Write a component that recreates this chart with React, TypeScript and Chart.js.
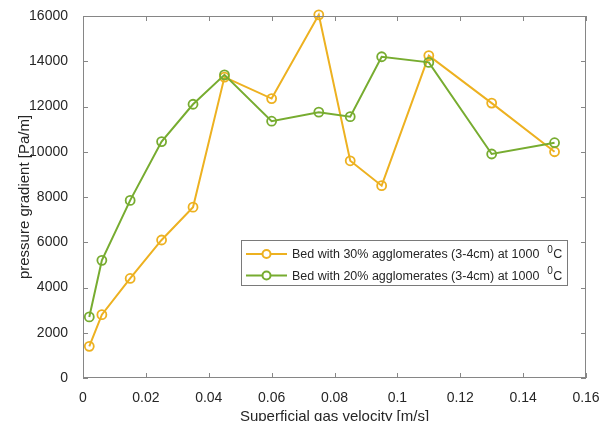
import React, { useEffect, useRef } from "react";
import { Chart, registerables } from "chart.js";

Chart.register(...registerables);

const velocity = [0.002, 0.006, 0.015, 0.025, 0.035, 0.045, 0.06, 0.075, 0.085, 0.095, 0.11, 0.13, 0.15];
const bed30 = [1400, 2800, 4400, 6100, 7550, 13300, 12350, 16050, 9600, 8500, 14250, 12150, 10000];
const bed20 = [2700, 5200, 7850, 10450, 12100, 13400, 11350, 11750, 11550, 14200, 13950, 9900, 10400];
const seriesLabels = [
  "Bed with 30% agglomerates (3-4cm) at 1000",
  "Bed with 20% agglomerates (3-4cm) at 1000",
];
const xTitle = "Superficial gas velocity [m/s]";
const yTitle = "pressure gradient [Pa/m]";

const ORANGE = "#EDB120";
const GREEN = "#77AC30";
const FONT = "'Liberation Sans', Arial, sans-serif";
const AXIS = "#868686";
const TEXT = "#262626";

const frame = {
  id: "frame",
  afterDatasetsDraw(chart: any) {
    const { ctx, chartArea: a, scales } = chart;
    ctx.save();
    ctx.strokeStyle = AXIS;
    ctx.lineWidth = 1;
    ctx.strokeRect(a.left + 0.5, a.top + 0.5, a.right - a.left - 1, a.bottom - a.top - 1);
    const L = 5;
    ctx.beginPath();
    scales.x.ticks.forEach((t: any) => {
      const px = Math.round(scales.x.getPixelForValue(t.value)) + 0.5;
      ctx.moveTo(px, a.bottom);
      ctx.lineTo(px, a.bottom - L);
      ctx.moveTo(px, a.top);
      ctx.lineTo(px, a.top + L);
    });
    scales.y.ticks.forEach((t: any) => {
      const py = Math.round(scales.y.getPixelForValue(t.value)) + 0.5;
      ctx.moveTo(a.left, py);
      ctx.lineTo(a.left + L, py);
      ctx.moveTo(a.right, py);
      ctx.lineTo(a.right - L, py);
    });
    ctx.stroke();

    // legend
    const bx = a.left + 158;
    const by = a.top + 224;
    const bw = 326;
    const bh = 45;
    ctx.fillStyle = "#ffffff";
    ctx.fillRect(bx, by, bw, bh);
    ctx.strokeStyle = "#7a7a7a";
    ctx.strokeRect(bx + 0.5, by + 0.5, bw, bh);
    const colors = [ORANGE, GREEN];
    seriesLabels.forEach((lab, i) => {
      const cy = by + 14 + i * 21.5;
      ctx.strokeStyle = colors[i];
      ctx.lineWidth = 2;
      ctx.beginPath();
      ctx.moveTo(bx + 5, cy);
      ctx.lineTo(bx + 46, cy);
      ctx.stroke();
      ctx.beginPath();
      ctx.arc(bx + 25.5, cy, 4, 0, Math.PI * 2);
      ctx.fillStyle = "#ffffff";
      ctx.fill();
      ctx.stroke();
      ctx.fillStyle = TEXT;
      ctx.textBaseline = "middle";
      ctx.font = `12.5px ${FONT}`;
      const tx = bx + 51;
      ctx.fillText(lab, tx, cy + 1);
      const w = ctx.measureText(lab + "  ").width;
      ctx.font = `10px ${FONT}`;
      ctx.fillText("0", tx + w + 1, cy - 4);
      const w0 = ctx.measureText("0").width;
      ctx.font = `12.5px ${FONT}`;
      ctx.fillText("C", tx + w + w0 + 1.5, cy + 1);
    });
    ctx.restore();
  },
};

export default function App() {
  const ref = useRef<HTMLCanvasElement>(null);
  useEffect(() => {
    document.body.style.margin = "0";
    const chart = new Chart(ref.current!, {
      type: "scatter",
      data: {
        datasets: [
          {
            label: seriesLabels[0],
            data: velocity.map((x, i) => ({ x, y: bed30[i] })),
            showLine: true,
            borderColor: ORANGE,
            backgroundColor: "#ffffff",
            pointBackgroundColor: "rgba(0,0,0,0)",
            borderWidth: 2,
            pointRadius: 4.5,
            pointBorderWidth: 1.8,
            order: 1,
            clip: false as any,
          },
          {
            label: seriesLabels[1],
            data: velocity.map((x, i) => ({ x, y: bed20[i] })),
            showLine: true,
            borderColor: GREEN,
            backgroundColor: "#ffffff",
            pointBackgroundColor: "rgba(0,0,0,0)",
            borderWidth: 2,
            pointRadius: 4.5,
            pointBorderWidth: 1.8,
            order: 0,
            clip: false as any,
          },
        ],
      },
      options: {
        animation: false,
        responsive: false,
        maintainAspectRatio: false,
        layout: { padding: { top: 16, right: 22, left: 0, bottom: 0 } },
        plugins: { legend: { display: false }, tooltip: { enabled: false } },
        scales: {
          x: {
            type: "linear",
            min: 0,
            max: 0.16,
            grid: { display: false },
            border: { display: false },
            ticks: {
              stepSize: 0.02,
              color: TEXT,
              font: { family: FONT, size: 14 },
              padding: 4,
              maxRotation: 0,
              callback: (v: any) => String(Number(Number(v).toFixed(2))),
            },
            title: {
              display: true,
              text: xTitle,
              color: TEXT,
              font: { family: FONT, size: 15 },
              padding: { top: 0, bottom: 0 },
            },
            afterFit: (s: any) => {
              s.height = 48;
            },
          },
          y: {
            type: "linear",
            min: 0,
            max: 16000,
            grid: { display: false },
            border: { display: false },
            ticks: {
              stepSize: 2000,
              color: TEXT,
              font: { family: FONT, size: 14 },
              padding: 7,
              callback: (v: any) => String(v),
            },
            title: {
              display: true,
              text: yTitle,
              color: TEXT,
              font: { family: FONT, size: 15 },
              padding: { top: 16, bottom: 0 },
            },
            afterFit: (s: any) => {
              s.width = 83;
            },
          },
        },
      },
      plugins: [frame],
    });
    return () => chart.destroy();
  }, []);
  return (
    <div style={{ position: "absolute", left: 0, top: 0, width: 608, height: 421, overflow: "hidden", background: "#fff" }}>
      <canvas ref={ref} width={608} height={426} style={{ display: "block" }} />
    </div>
  );
}
